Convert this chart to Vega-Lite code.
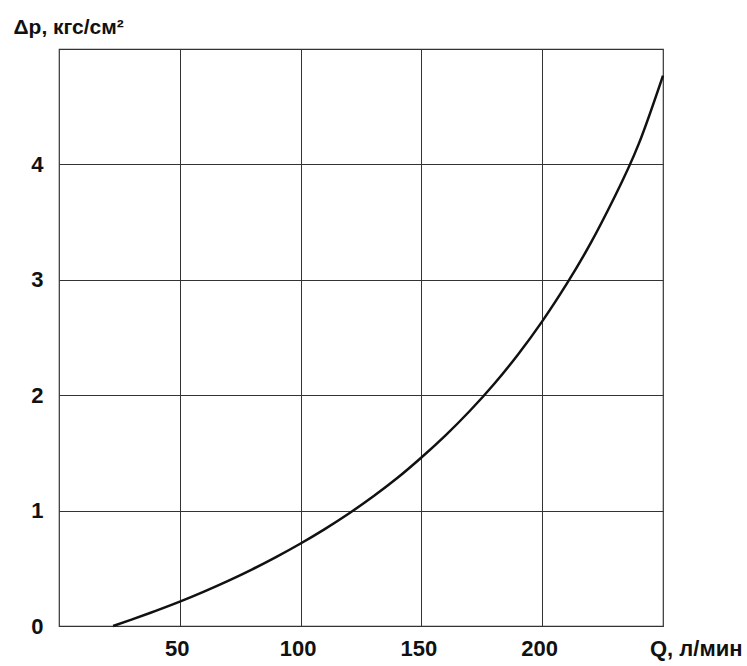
{
  "$schema": "https://vega.github.io/schema/vega-lite/v6.json",
  "width": 604,
  "height": 577,
  "autosize": {"type": "none"},
  "padding": {"left": 59, "top": 49, "right": 84, "bottom": 40},
  "background": "white",
  "config": {
    "view": {"stroke": "#333333", "strokeWidth": 1.2},
    "font": "Liberation Sans"
  },
  "data": {
    "values": [
      {"Q": 22.4, "dp": 0.0},
      {"Q": 30, "dp": 0.055},
      {"Q": 40, "dp": 0.131},
      {"Q": 50, "dp": 0.211},
      {"Q": 60, "dp": 0.298},
      {"Q": 70, "dp": 0.391},
      {"Q": 80, "dp": 0.491},
      {"Q": 90, "dp": 0.599},
      {"Q": 100, "dp": 0.715},
      {"Q": 110, "dp": 0.84},
      {"Q": 120, "dp": 0.975},
      {"Q": 130, "dp": 1.122},
      {"Q": 140, "dp": 1.282},
      {"Q": 150, "dp": 1.46},
      {"Q": 160, "dp": 1.652},
      {"Q": 170, "dp": 1.863},
      {"Q": 180, "dp": 2.095},
      {"Q": 190, "dp": 2.353},
      {"Q": 200, "dp": 2.64},
      {"Q": 210, "dp": 2.96},
      {"Q": 220, "dp": 3.315},
      {"Q": 230, "dp": 3.72},
      {"Q": 240, "dp": 4.18},
      {"Q": 250, "dp": 4.77}
    ]
  },
  "mark": {"type": "line", "color": "#111111", "strokeWidth": 2.5, "interpolate": "natural"},
  "encoding": {
    "x": {
      "field": "Q",
      "type": "quantitative",
      "scale": {"domain": [0, 250], "nice": false, "zero": false},
      "axis": {
        "values": [50, 100, 150, 200],
        "grid": true,
        "gridColor": "#333333",
        "gridOpacity": 1,
        "gridWidth": 1,
        "ticks": false,
        "domain": false,
        "labelFont": "Liberation Sans",
        "labelFontWeight": "bold",
        "labelFontSize": 22,
        "labelColor": "#111111",
        "labelPadding": 12,
        "labelOffset": -3,
        "labelBaseline": "top",
        "title": "Q, л/мин",
        "titleFont": "Liberation Sans",
        "titleFontSize": 22,
        "titleFontWeight": "bold",
        "titleColor": "#111111",
        "titleX": 683,
        "titleY": 12,
        "titleAlign": "right",
        "titleBaseline": "top",
        "titleAngle": 0
      }
    },
    "y": {
      "field": "dp",
      "type": "quantitative",
      "scale": {"domain": [0, 5], "nice": false},
      "axis": {
        "values": [0, 1, 2, 3, 4],
        "grid": true,
        "gridColor": "#333333",
        "gridOpacity": 1,
        "gridWidth": 1,
        "ticks": false,
        "domain": false,
        "labelFont": "Liberation Sans",
        "labelFontWeight": "bold",
        "labelFontSize": 22,
        "labelColor": "#111111",
        "labelPadding": 16,
        "title": "Δp, кгс/см²",
        "titleFont": "Liberation Sans",
        "titleFontSize": 21,
        "titleFontWeight": "bold",
        "titleColor": "#111111",
        "titleAngle": 0,
        "titleX": -46,
        "titleY": -16,
        "titleAlign": "left",
        "titleBaseline": "alphabetic"
      }
    }
  }
}
